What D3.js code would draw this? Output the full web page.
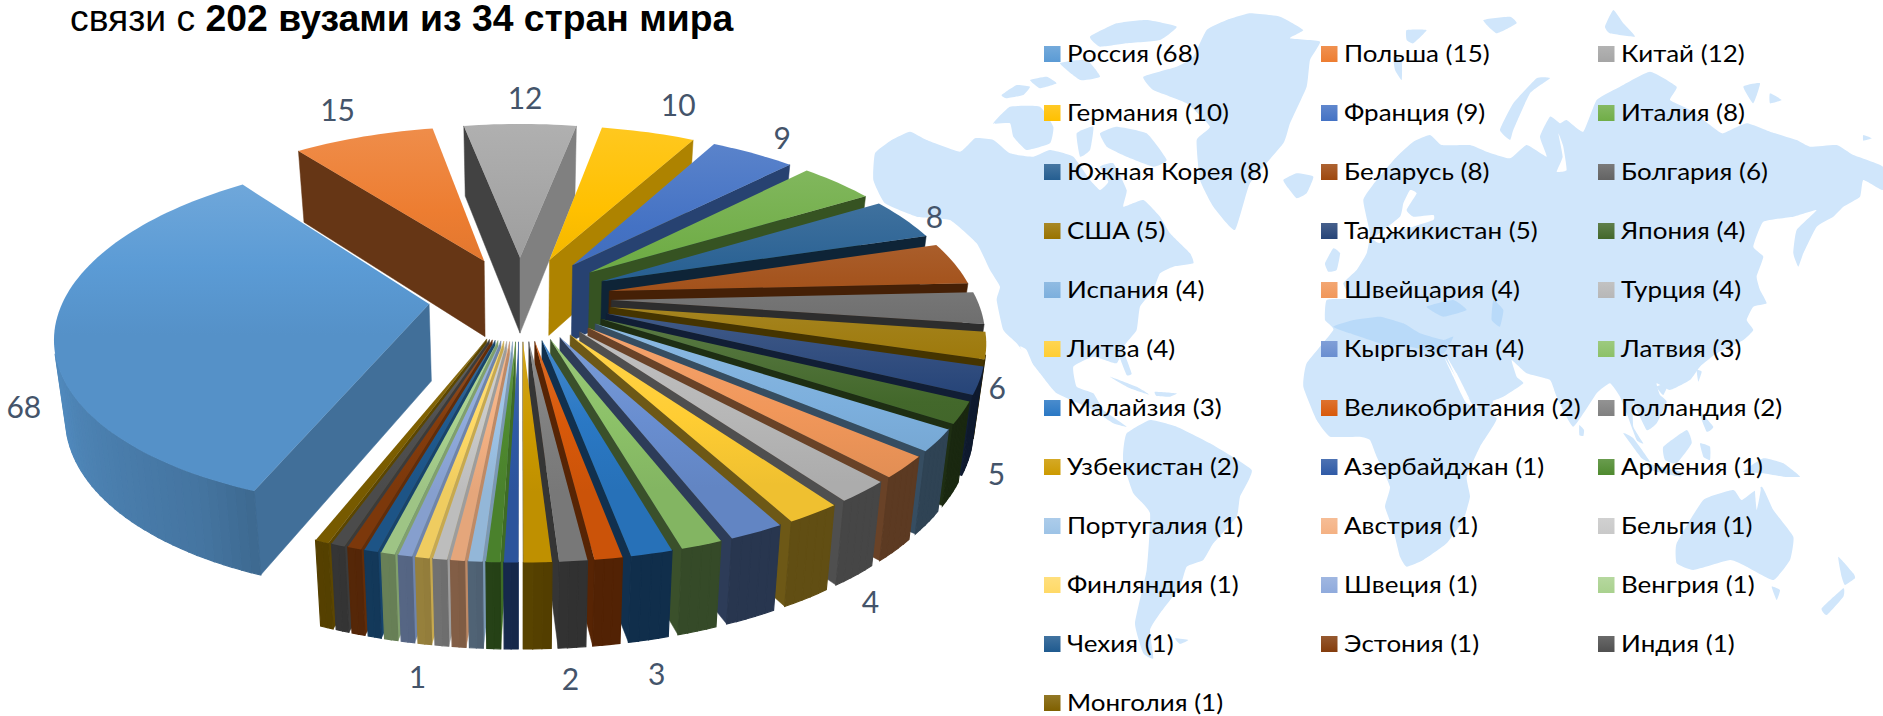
<!DOCTYPE html>
<html>
<head>
<meta charset="utf-8">
<style>
  html, body { margin: 0; padding: 0; background: #fff; }
  svg { display: block; }
</style>
<script src="https://cdn.jsdelivr.net/npm/d3@7"></script>
</head>
<body>
<div id="chart"></div>
<script>
"use strict";
let width = 1883;
let height = 716;

let countries = ["Россия","Польша","Китай","Германия","Франция","Италия","Южная Корея","Беларусь","Болгария",
  "США","Таджикистан","Япония","Испания","Швейцария","Турция","Литва","Кыргызстан","Латвия",
  "Малайзия","Великобритания","Голландия","Узбекистан","Азербайджан","Армения","Португалия","Австрия","Бельгия",
  "Финляндия","Швеция","Венгрия","Чехия","Эстония","Индия","Монголия"];
let universities = [68,15,12,10,9,8,8,8,6,5,5,4,4,4,4,4,4,3,3,2,2,2,1,1,1,1,1,1,1,1,1,1,1,1];
let sliceColors = ["#5B9BD5","#ED7D31","#A5A5A5","#FFC000","#4472C4","#70AD47","#255E91","#9E480E","#636363",
  "#997300","#264478","#43682B","#7CAFDD","#F1975A","#B7B7B7","#FFCD33","#698ED0","#8CC168",
  "#2A78C4","#D8590A","#808080","#CC9A00","#2F5AA6","#4F8A2F","#9DC3E6","#F4B183","#C9C9C9",
  "#FFD966","#8FAADC","#A9D18E","#1F5A8F","#843C0C","#505050","#7F6000"];

// which slices carry a number on the chart, and how far it sits from the slice rim
let labelled = [0,1,2,3,4,6,8,10,15,18,20,27];
let labelShift = [[-31,78],[-26,-28],[5,-27],[30,-28],[29,-16],[30,-3],[17,79],[17,92],[57,87],[5,119],[-3,117],[-5,118]];

// world map behind the legend, traced in zoomed crop coordinates (3x), offset by ox/oy
let mapLand = [
  // North and Central America
  [860,0,"45,460 95,420 150,395 200,420 300,455 345,415 400,420 450,460 520,470 570,450 640,470 690,540 720,570 745,545 720,500 760,490 800,570 790,620 850,600 900,650 930,700 990,760 1000,790 940,800 900,820 880,870 840,920 830,990 790,1040 770,1090 700,1070 640,1100 650,1160 700,1180 730,1230 800,1280 760,1270 700,1230 590,1180 540,1120 470,1030 430,990 410,900 420,860 390,810 350,730 270,660 170,650 75,610 40,540"],
  // Florida, Cuba, Hispaniola
  [860,0,"785,1040 815,1120 800,1125 775,1060"],
  [860,330,"750,140 830,170 870,195 810,175"],
  [860,330,"885,185 950,190 930,200 890,198"],
  // Arctic Canada
  [860,0,"425,285 470,255 510,260 490,285 440,295"],
  [860,0,"510,240 560,230 590,250 540,265"],
  [860,0,"400,370 450,320 540,320 580,380 570,430 500,450 460,410 450,370"],
  [860,0,"600,190 680,180 720,230 660,240"],
  [860,0,"690,110 770,70 860,60 950,80 900,120 800,130 720,140"],
  [860,0,"650,400 700,380 690,450 660,470"],
  [860,0,"720,400 770,380 860,400 920,480 880,500 800,470 740,440"],
  // Greenland, Iceland, Britain
  [860,0,"1170,40 1260,50 1330,90 1290,115 1380,125 1350,180 1340,260 1290,370 1270,430 1170,550 1125,690 1060,620 1020,540 1010,420 1050,380 980,310 880,270 850,230 950,200 1000,170 1040,90 1100,60"],
  [860,0,"1270,540 1310,520 1360,530 1340,580 1310,595 1285,565"],
  [860,0,"1395,790 1420,745 1440,760 1430,810 1405,815"],
  // South America
  [860,330,"790,360 800,310 870,270 950,290 1050,340 1175,420 1140,500 1130,560 1060,640 1030,690 980,710 960,770 900,850 870,900 880,985 850,970 825,880 860,720 870,550 820,490 790,400"],
  [860,330,"945,925 985,930 960,942"],
  // Eurasia and Africa as one shape, the seas are laid over it
  [1370,0,"-20,600 20,540 80,470 130,425 180,405 215,435 300,435 350,455 420,475 470,435 530,470 510,410 540,350 570,370 590,360 640,395 680,300 750,260 840,215 920,260 900,300 960,330 1040,390 1060,400 1130,370 1200,395 1280,420 1320,440 1400,435 1450,465 1539,500 1539,570 1480,540 1470,590 1420,620 1390,650 1340,680 1300,760 1285,800 1270,760 1280,690 1340,630 1270,650 1180,665 1150,740 1180,770 1160,830 1170,870 1190,910 1150,920 1130,960 1150,990 1120,1020 1040,1060 990,1100 960,1140 900,1170 860,1150 870,1185 890,1205 860,1270 830,1290 790,1210 790,1280 820,1330 800,1320 770,1240 750,1190 720,1150 680,1180 610,1280 560,1190 540,1140 470,1120 425,1080 440,1130 460,1150 400,1190 310,1215 225,1075 250,1130 290,1210 380,1255 330,1340 290,1430 300,1490 280,1560 230,1630 160,1680 110,1700 90,1670 70,1590 45,1520 60,1460 20,1370 0,1320 -30,1310 -120,1310 -160,1260 -200,1160 -190,1090 -110,990 -135,960 -130,900 -60,895 -80,850 -40,810 -10,760 0,700"],
  [1370,330,"350,170 372,175 365,240 340,295 320,290 320,240"],
  [1370,330,"628,285 642,300 640,318 628,315"],
  // Arctic islands of Eurasia
  [1370,0,"110,90 170,90 130,130 110,120"],
  [1370,0,"70,170 95,180 95,240 75,210"],
  [1370,0,"340,60 420,50 440,70 380,100"],
  [1370,0,"705,80 730,30 760,70 795,110 720,100"],
  [1370,0,"390,390 430,310 500,235 540,235 480,280 430,390 420,420"],
  [1370,0,"1120,260 1170,250 1150,310"],
  [1370,0,"1200,280 1235,300 1200,310"],
  [1370,0,"1480,405 1505,415 1480,422"],
  // East and South East Asia
  [1370,330,"860,170 895,160 880,195"],
  [1370,330,"980,120 995,125 985,155"],
  [1370,330,"985,240 1030,290 1010,305"],
  [1370,330,"760,310 790,325 840,395 815,385"],
  [1370,330,"880,350 950,300 965,340 920,400 885,390"],
  [1370,330,"990,340 1020,350 1020,390 1000,380"],
  [1370,330,"830,400 930,425 930,440 840,420"],
  [1370,330,"1120,425 1180,385 1240,400 1290,440 1240,440 1180,430"],
  // Australia and New Zealand
  [1370,330,"920,640 1000,510 1090,480 1115,510 1175,470 1210,540 1270,620 1260,690 1210,750 1130,710 1080,690 970,720 920,700"],
  [1370,330,"1205,770 1230,780 1220,810"],
  [1370,330,"1405,680 1450,730 1455,745 1425,765 1415,740"],
  [1370,330,"1420,775 1355,835 1370,855 1420,800"]
];
let mapWhite = [
  [860,330,"480,50 500,60 535,145 510,110"],              // Gulf of California
  [1370,0,"120,570 140,580 110,630 130,650 190,645 190,660 130,680 60,700 30,730 10,715 90,650 100,610"],  // Baltic
  [1370,0,"565,400 580,440 590,510 560,515 578,470"],     // Gulf of Ob
  [1370,330,"230,80 260,130 300,210 270,170"],            // Red Sea
  [1370,330,"1165,430 1172,480 1160,540 1155,480"]
];
let mapSeas = [
  [1370,0,"-110,980 -50,960 30,950 100,970 150,1000 220,1020 250,1010 220,1060 120,1040 60,1040 -60,1000"],  // Mediterranean
  [1370,0,"170,920 250,900 290,930 220,950"],             // Black Sea
  [1370,0,"370,900 400,930 390,980 365,960"]              // Caspian
];

let svg = d3.select("#chart").append("svg").attr("width", width).attr("height", height);
let defs = svg.append("defs");

// Backdrop map
let coast = d3.line().curve(d3.curveCardinalClosed.tension(0.6));
function drawMap(shapes, colour) {
  svg.append("g").selectAll("path")
     .data(shapes)
     .enter()
     .append("path")
     .attr("fill", colour)
     .attr("d", function(s) {
        let pts = s[2].split(" ").map(function(p) {
          let xy = p.split(",");
          return [s[0] + xy[0] / 3, s[1] + xy[1] / 3];
        });
        return coast(pts);
     });
}
drawMap(mapLand, "#D0E6FB");
drawMap(mapSeas, "#B9DAF9");
drawMap(mapWhite, "#FFFFFF");

// Title
let title = svg.append("text")
   .attr("x", 70)
   .attr("y", 31)
   .attr("font-family", "'Liberation Sans', Arial, sans-serif")
   .attr("font-size", "37.3px")
   .attr("fill", "#000");
title.append("tspan").text("связи с ");
title.append("tspan").attr("font-weight", "bold").text("202 вузами из 34 стран мира");

// Pie geometry: d3.pie gives the angles, the rest is a small perspective projection
let cx = 520, cy = 298;
let radiusX = 365, radiusY = 168;
let tilt = 0.165;
let explode = 0.25;
let depth = 77;

let slices = d3.pie().sort(null)
   .startAngle(-158.6 * Math.PI / 180)
   .endAngle((360 - 158.6) * Math.PI / 180)(universities);

function project(u, v, z) {
  let w = 1 - tilt * v;
  return [cx + radiusX * u / w * (1 - 0.025 * z), cy + radiusY * v / w + z * depth / Math.sqrt(w)];
}

// shift of a slice along its own middle angle
function sliceOffset(s) {
  let mid = (s.startAngle + s.endAngle) / 2;
  return [explode * Math.sin(mid), -explode * Math.cos(mid)];
}

function rimPoint(s, a, z) {
  let off = sliceOffset(s);
  return project(off[0] + Math.sin(a), off[1] - Math.cos(a), z);
}

function apexPoint(s, z) {
  let off = sliceOffset(s);
  return project(off[0], off[1], z);
}

// light comes from the left, so shade depends on where a face looks
let wallShade = d3.scaleLinear()
   .domain([0,100,125,150,165,180,250,260,360])
   .range([0.7,0.7,1.2,2.1,2.8,2.2,2.4,2.6,0.7]);
let rimShade = d3.scaleLinear()
   .domain([0,80,175,190,210,250,360])
   .range([2,2.7,2.7,1.5,0.8,0.35,0.35]);

function toDeg(a) {
  let d = a * 180 / Math.PI;
  return (d % 360 + 360) % 360;
}

function face(group, pts, colour, stroke) {
  // hidden faces wind the other way round
  if (d3.polygonArea(pts) <= 0) return;
  group.append("path")
     .attr("d", "M" + pts.join("L") + "Z")
     .attr("fill", colour)
     .attr("stroke", colour)
     .attr("stroke-width", stroke);
}

// Draw slices far to near
let order = slices.map(function(s, i) { return { s: s, i: i }; })
   .sort(function(a, b) {
     return Math.cos((b.s.startAngle + b.s.endAngle) / 2) - Math.cos((a.s.startAngle + a.s.endAngle) / 2);
   });

let pie = svg.append("g");

order.forEach(function(d) {
  let s = d.s;
  let base = d3.color(sliceColors[d.i]);
  let g = pie.append("g");

  let topPts = [apexPoint(s, 0)];
  let n = Math.max(2, Math.ceil((s.endAngle - s.startAngle) / (Math.PI / 120)));
  let step = (s.endAngle - s.startAngle) / n;
  for (let k = 0; k <= n; k++) {
    topPts.push(rimPoint(s, s.startAngle + k * step, 0));
  }

  // side walls
  face(g, [apexPoint(s, 0), rimPoint(s, s.startAngle, 0), rimPoint(s, s.startAngle, 1), apexPoint(s, 1)],
       base.darker(wallShade(toDeg(s.startAngle - Math.PI / 2))), 0.5);
  face(g, [rimPoint(s, s.endAngle, 0), apexPoint(s, 0), apexPoint(s, 1), rimPoint(s, s.endAngle, 1)],
       base.darker(wallShade(toDeg(s.endAngle + Math.PI / 2))), 0.5);

  // outer band, cut in strips so the shade can change along it
  for (let k = 0; k < n; k++) {
    let a0 = s.startAngle + k * step, a1 = a0 + step;
    face(g, [rimPoint(s, a0, 0), rimPoint(s, a1, 0), rimPoint(s, a1, 1), rimPoint(s, a0, 1)],
         base.darker(rimShade(toDeg((a0 + a1) / 2))), 1.2);
  }

  // top surface, lighter towards the far edge
  let minY = d3.min(topPts, function(p) { return p[1]; });
  let grad = defs.append("linearGradient")
     .attr("id", "top" + d.i)
     .attr("gradientUnits", "userSpaceOnUse")
     .attr("x1", 0).attr("x2", 0)
     .attr("y1", minY).attr("y2", minY + 150);
  grad.append("stop").attr("offset", "0%").attr("stop-color", d3.interpolateRgb(base, "#fff")(0.12));
  grad.append("stop").attr("offset", "55%").attr("stop-color", base.formatHex());
  grad.append("stop").attr("offset", "100%").attr("stop-color", base.darker(0.18).formatHex());

  g.append("path")
     .attr("d", "M" + topPts.join("L") + "Z")
     .attr("fill", "url(#top" + d.i + ")");
});

// Numbers on the chart
svg.append("g").selectAll("text")
   .data(labelled)
   .enter()
   .append("text")
   .attr("x", function(idx, i) {
     let s = slices[idx];
     return rimPoint(s, (s.startAngle + s.endAngle) / 2, 0)[0] + labelShift[i][0];
   })
   .attr("y", function(idx, i) {
     let s = slices[idx];
     return rimPoint(s, (s.startAngle + s.endAngle) / 2, 0)[1] + labelShift[i][1];
   })
   .attr("text-anchor", "middle")
   .attr("dominant-baseline", "central")
   .attr("font-family", "Lato, 'Open Sans', sans-serif")
   .attr("font-size", "30px")
   .attr("fill", "#44546A")
   .text(function(idx) { return universities[idx]; });

// Legend
let legendColumn = d3.scaleOrdinal().domain([0,1,2]).range([1044,1321,1598]);
let legendRow = d3.scaleLinear().domain([0,1]).range([46,105]);

let legendItems = svg.append("g").selectAll("g")
   .data(countries)
   .enter()
   .append("g")
   .attr("transform", function(d, i) {
     return "translate(" + legendColumn(i % 3) + "," + legendRow(Math.floor(i / 3)) + ")";
   });

legendItems.each(function(d, i) {
  let base = d3.color(sliceColors[i]);
  let grad = defs.append("linearGradient")
     .attr("id", "key" + i)
     .attr("x1", 0).attr("x2", 0).attr("y1", 0).attr("y2", 1);
  grad.append("stop").attr("offset", "0%").attr("stop-color", d3.interpolateRgb(base, "#fff")(0.15));
  grad.append("stop").attr("offset", "100%").attr("stop-color", base.formatHex());
});

legendItems.append("rect")
   .attr("width", 16.5)
   .attr("height", 16)
   .attr("fill", function(d, i) { return "url(#key" + i + ")"; });

legendItems.append("text")
   .attr("transform", "translate(23,7.5) scale(1.13,1)")
   .attr("dominant-baseline", "central")
   .attr("font-family", "Lato, 'Open Sans', sans-serif")
   .attr("font-size", "23px")
   .attr("fill", "#000")
   .text(function(d, i) { return d + " (" + universities[i] + ")"; });
</script>
</body>
</html>
